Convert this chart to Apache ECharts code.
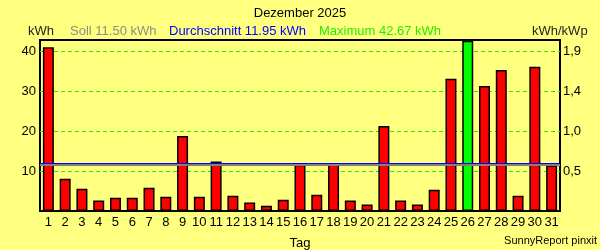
<!DOCTYPE html>
<html>
<head>
<meta charset="utf-8">
<script src="https://cdn.jsdelivr.net/npm/echarts@6/dist/echarts.min.js"></script>
<style>
html,body{margin:0;padding:0;background:#FFFF80;}
#c{width:600px;height:250px;}
</style>
</head>
<body>
<div id="c"></div>
<script>
const days = ['1','2','3','4','5','6','7','8','9','10','11','12','13','14','15','16','17','18','19','20','21','22','23','24','25','26','27','28','29','30','31'];
const energyKWh = [41.0,8.1,5.6,2.6,3.3,3.3,5.8,3.6,18.8,3.6,12.4,3.8,2.1,1.3,2.8,11.6,4.1,11.7,2.6,1.6,21.3,2.6,1.6,5.3,33.1,42.67,31.3,35.3,3.8,36.1,11.4];
const sollKWh = 11.50;
const avgKWh = 11.95;
const maxKWh = 42.67;
const leftTicks = [10, 20, 30, 40];
const rightTickLabels = {10: '0,5', 20: '1,0', 30: '1,4', 40: '1,9'};
const titleText = 'Dezember 2025';
const FONT = '"Liberation Sans", Arial, sans-serif';

const chart = echarts.init(document.getElementById('c'), null, {renderer: 'canvas'});
const fmt = v => v.toFixed(2);
chart.setOption({
  backgroundColor: '#FFFF80',
  animation: false,
  textStyle: {fontFamily: FONT},
  title: {
    text: titleText, left: 'center', top: 2,
    textStyle: {fontSize: 13, fontWeight: 'normal', color: '#000', fontFamily: FONT}
  },
  graphic: [
    {type: 'text', left: 28, top: 25, style: {text: 'kWh', fontSize: 13, fill: '#222', fontFamily: FONT}},
    {type: 'text', left: 70, top: 25, style: {text: 'Soll ' + fmt(sollKWh) + ' kWh', fontSize: 13, fill: '#8c8c8c', fontFamily: FONT}},
    {type: 'text', left: 169, top: 25, style: {text: 'Durchschnitt ' + fmt(avgKWh) + ' kWh', fontSize: 13, fill: '#0000ff', fontFamily: FONT}},
    {type: 'text', left: 319, top: 25, style: {text: 'Maximum ' + fmt(maxKWh) + ' kWh', fontSize: 13, fill: '#22ee00', fontFamily: FONT}},
    {type: 'text', left: 532, top: 25, style: {text: 'kWh/kWp', fontSize: 13, fill: '#222', fontFamily: FONT}},
    {type: 'text', right: 3, top: 235, style: {text: 'SunnyReport pinxit', fontSize: 11, fill: '#000', fontFamily: FONT}}
  ],
  grid: {
    left: 40, right: 40, top: 40, bottom: 39,
    outerBoundsMode: 'none', containLabel: false,
    show: true, borderColor: '#000', borderWidth: 2, backgroundColor: 'transparent'
  },
  xAxis: {
    type: 'category', data: days,
    name: 'Tag', nameLocation: 'middle', nameGap: 26,
    nameTextStyle: {fontSize: 13, color: '#000', fontFamily: FONT},
    axisLine: {show: false}, axisTick: {show: false},
    axisLabel: {fontSize: 13, color: '#000', margin: 5, interval: 0, fontFamily: FONT}
  },
  yAxis: [
    {
      type: 'value', min: 0, max: 42.83, interval: 10,
      axisLine: {show: false}, axisTick: {show: false},
      axisLabel: {fontSize: 13, color: '#000', margin: 4, showMinLabel: false, showMaxLabel: false, fontFamily: FONT,
        formatter: v => leftTicks.includes(v) ? String(v) : ''},
      splitLine: {show: true, showMinLine: false, showMaxLine: false, lineStyle: {color: '#22ee00', type: [4, 3], width: 1}}
    },
    {
      type: 'value', min: 0, max: 42.83, interval: 10, position: 'right',
      axisLine: {show: false}, axisTick: {show: false},
      axisLabel: {fontSize: 13, color: '#000', margin: 3, showMinLabel: false, showMaxLabel: false, fontFamily: FONT,
        formatter: v => rightTickLabels[v] || ''},
      splitLine: {show: false}
    }
  ],
  series: [{
    type: 'bar',
    data: energyKWh,
    barWidth: 11,
    itemStyle: {
      borderColor: '#000', borderWidth: 1.5,
      color: p => (p.value === maxKWh ? '#00ff00' : '#ff0000')
    },
    markLine: {
      silent: true, symbol: 'none', label: {show: false},
      data: [
        {yAxis: sollKWh, lineStyle: {color: '#808080', width: 2, type: 'solid'}},
        {yAxis: avgKWh, lineStyle: {color: '#0000ff', width: 1, type: 'solid'}}
      ]
    }
  }]
});
</script>
</body>
</html>
